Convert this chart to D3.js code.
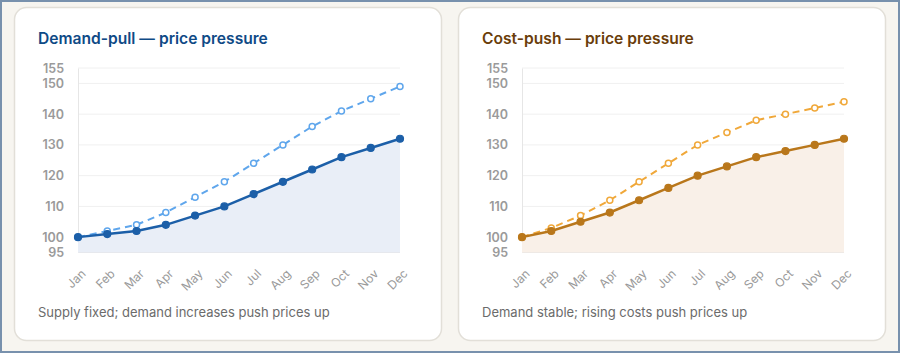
<!DOCTYPE html>
<html>
<head>
<meta charset="utf-8">
<script src="https://cdn.jsdelivr.net/npm/d3@7"></script>
<style>
  html, body { margin: 0; padding: 0; background: #f7f5f0; }
  svg { display: block; }
</style>
</head>
<body>
<div id="chart"></div>
<script>
// Data
const months = ["Jan", "Feb", "Mar", "Apr", "May", "Jun", "Jul", "Aug", "Sep", "Oct", "Nov", "Dec"];
const yTicks = [95, 100, 110, 120, 130, 140, 150, 155];

const demandPrice = [100, 101, 102, 104, 107, 110, 114, 118, 122, 126, 129, 132];
const demandPressure = [100, 102, 104, 108, 113, 118, 124, 130, 136, 141, 145, 149];

const costPrice = [100, 102, 105, 108, 112, 116, 120, 123, 126, 128, 130, 132];
const costPressure = [100, 103, 107, 112, 118, 124, 130, 134, 138, 140, 142, 144];

const titles = ["Demand-pull \u2014 price pressure", "Cost-push \u2014 price pressure"];
const notes = ["Supply fixed; demand increases push prices up", "Demand stable; rising costs push prices up"];

const width = 900, height = 353;

const svg = d3.select("#chart").append("svg")
  .attr("width", width)
  .attr("height", height);

// outer frame
svg.append("rect")
  .attr("x", 1).attr("y", 1)
  .attr("width", width - 2).attr("height", height - 2)
  .attr("fill", "#f7f5f0")
  .attr("stroke", "#7891ad")
  .attr("stroke-width", 2);

const panels = [
  { x: 14, title: titles[0], note: notes[0], solid: demandPrice, dashed: demandPressure,
    titleColor: "#0f4a86", line: "#1c5fa8", dash: "#5fa6ec", area: "#e9eef7" },
  { x: 458, title: titles[1], note: notes[1], solid: costPrice, dashed: costPressure,
    titleColor: "#6a3d0a", line: "#b9771b", dash: "#f0a83a", area: "#f9f0e8" }
];

panels.forEach(function(p) {
  const g = svg.append("g").attr("transform", `translate(${p.x},7)`);

  // card
  g.append("rect")
    .attr("x", 0.5).attr("y", 0.5)
    .attr("width", 427).attr("height", 333)
    .attr("rx", 12)
    .attr("fill", "#ffffff")
    .attr("stroke", "#e2dfd8")
    .attr("stroke-width", 1.5);

  g.append("text")
    .attr("x", 24).attr("y", 37)
    .attr("font-family", "Inter, 'Open Sans', sans-serif")
    .attr("font-weight", 600)
    .attr("font-size", "15.6px")
    .attr("fill", p.titleColor)
    .text(p.title);

  // scales
  const xScale = d3.scalePoint()
    .domain(months)
    .range([64, 386]);

  const yScale = d3.scaleLinear()
    .domain([95, 155])
    .range([245.5, 61]);

  // grid
  g.append("g")
    .selectAll("line")
    .data(yTicks)
    .enter()
    .append("line")
      .attr("x1", 64).attr("x2", 386)
      .attr("y1", d => yScale(d)).attr("y2", d => yScale(d))
      .attr("stroke", d => d === 95 ? "#e3e3e3" : "#f0f0f0")
      .attr("stroke-width", 1);

  // y axis
  const yAxis = g.append("g")
    .attr("transform", "translate(64,0)")
    .call(d3.axisLeft(yScale).tickValues(yTicks).tickSize(0).tickPadding(14));
  yAxis.select(".domain").attr("stroke", "#e6e6e6");
  yAxis.selectAll("text")
    .attr("font-family", "Inter, 'Open Sans', sans-serif")
    .attr("font-weight", 600)
    .attr("font-size", "12.5px")
    .attr("fill", "#9a9a9a");

  // x axis
  const xAxis = g.append("g")
    .attr("transform", "translate(0,245.5)")
    .call(d3.axisBottom(xScale).tickSize(0));
  xAxis.select(".domain").remove();
  xAxis.selectAll("text")
    .attr("font-family", "Inter, 'Open Sans', sans-serif")
    .attr("font-size", "12px")
    .attr("fill", "#9a9a9a")
    .style("text-anchor", "end")
    .attr("y", 0)
    .attr("dx", 0)
    .attr("dy", "0.35em")
    .attr("transform", "translate(5,19) rotate(-45)");

  // area under solid line
  const area = d3.area()
    .x((d, i) => xScale(months[i]))
    .y0(yScale(95))
    .y1(d => yScale(d));
  g.append("path")
    .datum(p.solid)
    .attr("d", area)
    .attr("fill", p.area);

  const line = d3.line()
    .x((d, i) => xScale(months[i]))
    .y(d => yScale(d));

  // dashed pressure line
  g.append("path")
    .datum(p.dashed)
    .attr("d", line)
    .attr("fill", "none")
    .attr("stroke", p.dash)
    .attr("stroke-width", 2)
    .attr("stroke-dasharray", "7,5");

  g.append("g")
    .selectAll("circle")
    .data(p.dashed)
    .enter()
    .append("circle")
      .attr("cx", (d, i) => xScale(months[i]))
      .attr("cy", d => yScale(d))
      .attr("r", 3)
      .attr("fill", "#ffffff")
      .attr("stroke", p.dash)
      .attr("stroke-width", 1.5);

  // solid price line
  g.append("path")
    .datum(p.solid)
    .attr("d", line)
    .attr("fill", "none")
    .attr("stroke", p.line)
    .attr("stroke-width", 2.5);

  g.append("g")
    .selectAll("circle")
    .data(p.solid)
    .enter()
    .append("circle")
      .attr("cx", (d, i) => xScale(months[i]))
      .attr("cy", d => yScale(d))
      .attr("r", 3.5)
      .attr("fill", p.line)
      .attr("stroke", p.line)
      .attr("stroke-width", 1.2);

  g.append("text")
    .attr("x", 24).attr("y", 310)
    .attr("font-family", "Inter, 'Open Sans', sans-serif")
    .attr("font-size", "13px")
    .attr("fill", "#6b6b6b")
    .text(p.note);
});
</script>
</body>
</html>
